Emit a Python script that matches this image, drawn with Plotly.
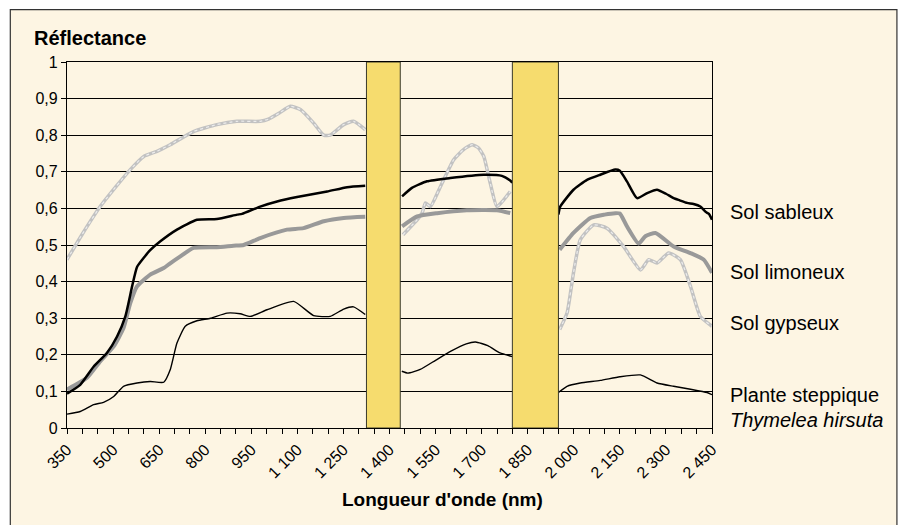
import plotly.graph_objects as go

# ---------------- data ----------------
sableux_wl = [350, 393, 437, 480, 513, 540, 562, 578, 600, 620, 654, 708, 773, 838, 904, 920, 979, 1034, 1099, 1197, 1262, 1321,
              None,
              1441, 1473, 1522, 1598, 1707, 1766, 1793, 1800,
              None,
              1950, 1956, 1999, 2043, 2086, 2135, 2150, 2173, 2206, 2239, 2271, 2300, 2325, 2345, 2369, 2390, 2412, 2430, 2440, 2450]
sableux_val = [0.094, 0.118, 0.168, 0.205, 0.25, 0.305, 0.387, 0.44, 0.465, 0.485, 0.51, 0.542, 0.569, 0.571, 0.583, 0.585, 0.605, 0.619, 0.631, 0.646, 0.658, 0.662,
               None,
               0.633, 0.656, 0.674, 0.683, 0.692, 0.689, 0.676, 0.67,
               None,
               0.583, 0.605, 0.651, 0.678, 0.692, 0.706, 0.703, 0.674, 0.628, 0.642, 0.651, 0.64, 0.628, 0.622, 0.615, 0.612, 0.605, 0.59, 0.585, 0.569]

limoneux_wl = [350, 415, 458, 502, 534, 556, 578, 621, 665, 686, 719, 762, 838, 892, 925, 979, 1066, 1120, 1186, 1251, 1321,
               None,
               1441, 1490, 1555, 1652, 1750, 1793,
               None,
               1954, 1999, 2054, 2100, 2135, 2150, 2173, 2211, 2233, 2266, 2325, 2380, 2423, 2450]
limoneux_val = [0.105, 0.137, 0.182, 0.223, 0.273, 0.341, 0.387, 0.419, 0.437, 0.45, 0.469, 0.492, 0.494, 0.498, 0.5, 0.519, 0.542, 0.546, 0.565, 0.574, 0.577,
                None,
                0.551, 0.578, 0.587, 0.595, 0.595, 0.587,
                None,
                0.487, 0.533, 0.574, 0.583, 0.587, 0.586, 0.551, 0.504, 0.524, 0.533, 0.496, 0.478, 0.46, 0.424]

gypseux_wl = [350, 400, 458, 510, 556, 600, 643, 686, 762, 838, 903, 979, 1006, 1040, 1077, 1110, 1153, 1186, 1207, 1251, 1283, 1321,
              None,
              1444, 1490, 1506, 1517, 1533, 1566, 1609, 1640, 1669, 1690, 1707, 1728, 1750, 1793,
              None,
              1954, 1978, 1999, 2021, 2065, 2108, 2162, 2217, 2244, 2271, 2309, 2347, 2380, 2412, 2450]
gypseux_val = [0.46, 0.53, 0.605, 0.66, 0.706, 0.742, 0.756, 0.774, 0.81, 0.829, 0.838, 0.838, 0.844, 0.86, 0.879, 0.87, 0.833, 0.8, 0.8, 0.829, 0.838, 0.815,
               None,
               0.528, 0.569, 0.587, 0.615, 0.605, 0.66, 0.733, 0.76, 0.774, 0.765, 0.742, 0.669, 0.605, 0.646,
               None,
               0.269, 0.314, 0.424, 0.514, 0.555, 0.546, 0.496, 0.432, 0.46, 0.451, 0.478, 0.46, 0.387, 0.305, 0.278]

plante_wl = [350, 393, 437, 469, 502, 534, 578, 621, 665, 686, 708, 735, 773, 817, 871, 914, 947, 1001, 1088, 1153, 1207, 1251, 1283, 1321,
             None,
             1440, 1460, 1500, 1550, 1600, 1650, 1680, 1720, 1760, 1800,
             None,
             1950, 1978, 2021, 2086, 2150, 2217, 2271, 2325, 2380, 2434, 2450]
plante_val = [0.038, 0.045, 0.064, 0.07, 0.086, 0.114, 0.123, 0.127, 0.125, 0.159, 0.232, 0.278, 0.293, 0.3, 0.314, 0.312, 0.305, 0.323, 0.346, 0.307, 0.305, 0.325, 0.331, 0.31,
              None,
              0.155, 0.15, 0.16, 0.185, 0.21, 0.23, 0.235, 0.225, 0.205, 0.195,
              None,
              0.097, 0.114, 0.123, 0.13, 0.14, 0.145, 0.123, 0.114, 0.106, 0.097, 0.091]

bandes = [(1325, 1435), (1800, 1950)]

x_ticks = list(range(350, 2451, 150))
x_ticktext = [f"{v:,}".replace(",", " ") for v in x_ticks]
y_ticks = [i / 10 for i in range(11)]
y_ticktext = ["0", "0,1", "0,2", "0,3", "0,4", "0,5", "0,6", "0,7", "0,8", "0,9", "1"]

labels = ["Sol sableux", "Sol limoneux", "Sol gypseux", "Plante steppique", "<i>Thymelea hirsuta</i>"]
label_y = [0.591, 0.427, 0.288, 0.091, 0.023]

# ---------------- figure ----------------
FONT = "Liberation Sans, Arial, Helvetica, sans-serif"
fig = go.Figure()

fig.add_trace(go.Scatter(x=gypseux_wl, y=gypseux_val, mode="lines",
                         line=dict(color="#c2c2c2", width=3.5, shape="spline", smoothing=0.5),
                         connectgaps=False, hoverinfo="skip"))
fig.add_trace(go.Scatter(x=gypseux_wl, y=gypseux_val, mode="lines",
                         line=dict(color="#ececec", width=1.2, dash="dot", shape="spline", smoothing=0.5),
                         connectgaps=False, hoverinfo="skip"))
fig.add_trace(go.Scatter(x=limoneux_wl, y=limoneux_val, mode="lines",
                         line=dict(color="#999999", width=4, shape="spline", smoothing=0.5),
                         connectgaps=False, hoverinfo="skip"))
fig.add_trace(go.Scatter(x=sableux_wl, y=sableux_val, mode="lines",
                         line=dict(color="#000000", width=2.5, shape="spline", smoothing=0.5),
                         connectgaps=False, hoverinfo="skip"))
fig.add_trace(go.Scatter(x=plante_wl, y=plante_val, mode="lines",
                         line=dict(color="#000000", width=1.4, shape="spline", smoothing=0.5),
                         connectgaps=False, hoverinfo="skip"))

# cream frame
fig.add_shape(type="rect", xref="paper", yref="paper",
              x0=-0.0879, x1=1.2867, y0=-0.30, y1=1.1429,
              fillcolor="#FDF5E3", line=dict(color="#333333", width=1.2), layer="below")

for b0, b1 in bandes:
    fig.add_shape(type="rect", xref="x", yref="y", x0=b0, x1=b1, y0=0, y1=1,
                  fillcolor="#F6DC6E", line=dict(color="#3a3a2a", width=1), layer="above")

for txt, yv in zip(labels, label_y):
    fig.add_annotation(x=1.025, y=yv, xref="paper", yref="y", text=txt, showarrow=False,
                       xanchor="left", yanchor="middle", font=dict(family=FONT, size=20, color="#000"))

fig.add_annotation(x=-0.0535, y=1.066, xref="paper", yref="paper", text="<b>Réflectance</b>",
                   showarrow=False, xanchor="left", yanchor="middle",
                   font=dict(family=FONT, size=20, color="#000"))

fig.add_annotation(x=0.5816, y=-0.196, xref="paper", yref="paper", text="<b>Longueur d'onde (nm)</b>",
                   showarrow=False, xanchor="center", yanchor="middle",
                   font=dict(family=FONT, size=19, color="#000"))

fig.update_layout(
    width=901, height=525, autosize=False,
    margin=dict(l=67, r=189, t=62, b=97),
    paper_bgcolor="white", plot_bgcolor="white",
    showlegend=False,
    font=dict(family=FONT, size=16, color="#000"),
    xaxis=dict(range=[350, 2450], tickmode="array", tickvals=x_ticks, ticktext=x_ticktext,
               tickangle=-45, ticks="outside", ticklen=5, tickcolor="#000", tickwidth=1,
               showgrid=False, zeroline=False, showline=True, linecolor="#000", linewidth=1.2, mirror=True,
               minor=dict(dtick=50, tick0=350, ticks="outside", ticklen=5, tickcolor="#000", showgrid=False),
               tickfont=dict(family=FONT, size=16), automargin=False),
    yaxis=dict(range=[0, 1], tickmode="array", tickvals=y_ticks, ticktext=y_ticktext,
               ticks="outside", ticklen=5, tickcolor="#000",
               showgrid=True, gridcolor="#000", gridwidth=1,
               zeroline=False, showline=True, linecolor="#000", linewidth=1.2, mirror=True,
               tickfont=dict(family=FONT, size=16), automargin=False),
)

fig.write_html("out.html", config={"displayModeBar": False},
               post_script="document.body.style.margin='0';document.body.style.overflow='hidden';")
